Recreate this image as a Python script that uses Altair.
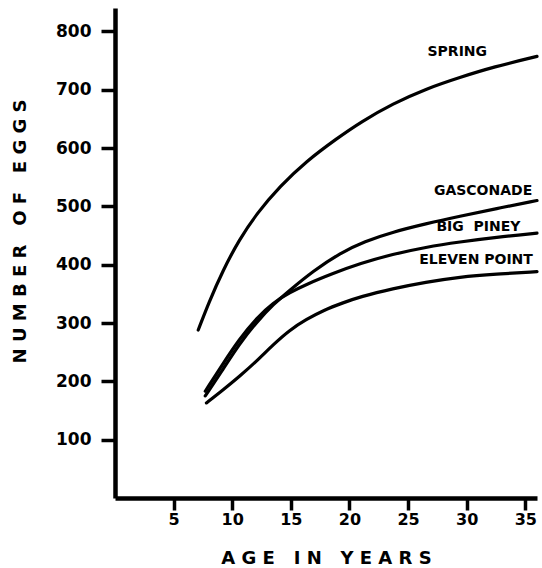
import altair as alt
import pandas as pd

# ---- data ----
spring_age = [7.1, 8.0, 9.2, 10.6, 12.1, 14.1, 16.3, 18.9, 21.0, 23.7, 26.6, 29.4, 32.3, 36.0]
spring_eggs = [288, 335, 390, 443, 488, 535, 577, 616, 645, 676, 702, 721, 739, 757]

gasc_age = [7.7, 9.2, 10.6, 12.1, 13.5, 14.9, 16.9, 19.2, 21.3, 23.7, 26.5, 29.4, 32.5, 36.0]
gasc_eggs = [175, 220, 264, 302, 332, 356, 389, 420, 440, 456, 470, 483, 496, 510]

piney_age = [7.7, 9.2, 10.6, 12.1, 13.5, 14.9, 16.3, 18.6, 20.9, 23.7, 26.5, 29.4, 32.5, 36.0]
piney_eggs = [183, 230, 272, 309, 335, 352, 366, 385, 402, 418, 430, 439, 447, 454]

eleven_age = [7.8, 9.2, 10.6, 12.1, 13.5, 14.9, 16.3, 17.8, 19.5, 20.9, 23.7, 26.5, 29.4, 32.5, 36.0]
eleven_eggs = [163, 185, 208, 235, 263, 288, 306, 322, 335, 345, 359, 370, 379, 384, 388]

NB = "\u00a0"
label_names = ["SPRING", "GASCONADE", "BIG" + NB + NB + "PINEY", "ELEVEN" + NB + "POINT"]
label_age = [29.2, 31.4, 31.0, 30.8]
label_eggs = [764, 527, 464, 408]

x_ticks = [5, 10, 15, 20, 25, 30, 35]
y_ticks = [100, 200, 300, 400, 500, 600, 700, 800]

x_title = NB.join("AGE") + NB * 3 + NB.join("IN") + NB * 3 + NB.join("YEARS")
y_title = NB.join("NUMBER") + NB * 3 + NB.join("OF") + NB * 3 + NB.join("EGGS")

FONT = "DejaVu Sans"

rows = []
for name, xs, ys in [("SPRING", spring_age, spring_eggs),
                     ("GASCONADE", gasc_age, gasc_eggs),
                     ("BIG PINEY", piney_age, piney_eggs),
                     ("ELEVEN POINT", eleven_age, eleven_eggs)]:
    for i, (a, e) in enumerate(zip(xs, ys)):
        rows.append({"series": name, "age": a, "eggs": e, "order": i})
df = pd.DataFrame(rows)

labels = pd.DataFrame({"name": label_names, "age": label_age, "eggs": label_eggs})

x_scale = alt.Scale(domain=[0, 36], nice=False, zero=False)
y_scale = alt.Scale(domain=[0, 840], nice=False, zero=False)

x_axis = alt.Axis(
    values=x_ticks, title=x_title, grid=False,
    domainColor="black", domainWidth=4.5, tickColor="black", tickWidth=3.5,
    tickSize=12, labelPadding=1, labelFont=FONT, labelFontSize=16,
    labelFontWeight="bold", labelColor="black",
    titleFont=FONT, titleFontSize=18, titleFontWeight="bold", titleColor="black",
    titleX=211, titleY=60, titleBaseline="middle", titleAlign="center",
)
y_axis = alt.Axis(
    values=y_ticks, title=y_title, grid=False,
    domainColor="black", domainWidth=4.5, tickColor="black", tickWidth=3.5,
    tickSize=14, labelPadding=10, labelFont=FONT, labelFontSize=17,
    labelFontWeight="bold", labelColor="black",
    titleFont=FONT, titleFontSize=18, titleFontWeight="bold", titleColor="black",
    titleAngle=-90, titleX=-95, titleY=223, titleBaseline="middle", titleAlign="center",
)

lines = alt.Chart(df).mark_line(
    color="black", strokeWidth=3.2, interpolate="basis", strokeCap="round"
).encode(
    x=alt.X("age:Q", scale=x_scale, axis=x_axis),
    y=alt.Y("eggs:Q", scale=y_scale, axis=y_axis),
    detail="series:N",
    order="order:Q",
)

texts = alt.Chart(labels).mark_text(
    font=FONT, fontSize=14, fontWeight="bold", color="black",
    align="center", baseline="middle",
).encode(
    x=alt.X("age:Q", scale=x_scale),
    y=alt.Y("eggs:Q", scale=y_scale),
    text="name:N",
)

chart = alt.layer(lines, texts).properties(
    width=422, height=490,
    autosize=alt.AutoSizeParams(type="none"),
    padding={"left": 115, "top": 8, "right": 5, "bottom": 70},
    background="white",
).configure_view(stroke=None)

chart.save("out.html", embed_options={"renderer": "svg", "actions": False})
